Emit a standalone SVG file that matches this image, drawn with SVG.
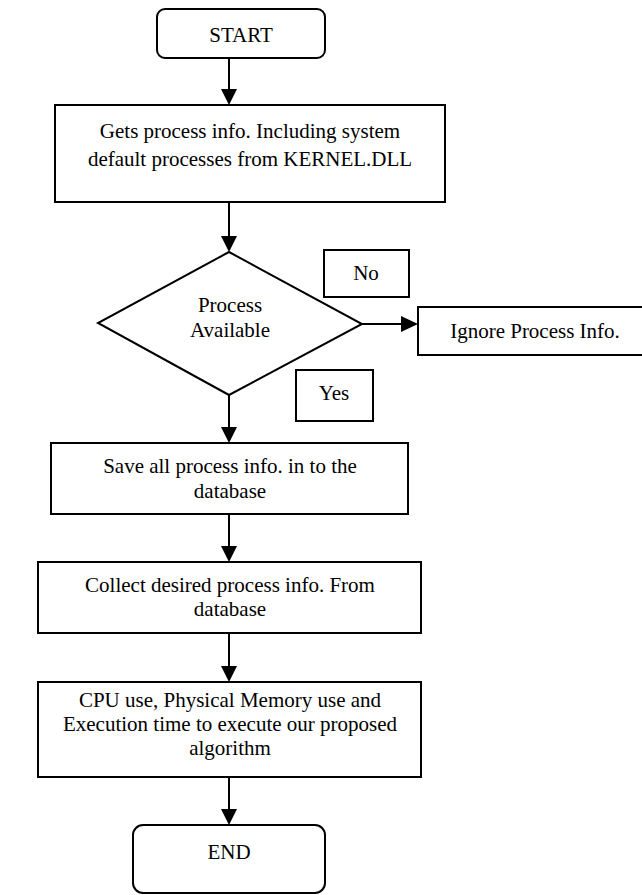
<svg xmlns="http://www.w3.org/2000/svg" width="642" height="895" viewBox="0 0 642 895">
<defs>
<style>
.box{fill:#fff;stroke:#000;stroke-width:2}
.t{font-family:"Liberation Serif","Times New Roman",serif;font-size:21px;fill:#000;text-anchor:middle}
.c{stroke:#000;stroke-width:2;fill:none}
.h{fill:#000;stroke:none}
</style>
</defs>
<rect width="642" height="895" fill="#fff"/>
<g id="connectors">
<line class="c" x1="229" y1="58" x2="229" y2="90"/>
<polygon class="h" points="221,89 237,89 229,105"/>
<line class="c" x1="229" y1="202" x2="229" y2="237"/>
<polygon class="h" points="221,236 237,236 229,252"/>
<line class="c" x1="362" y1="324" x2="402" y2="324"/>
<polygon class="h" points="401,316 401,332 418,324"/>
<line class="c" x1="229" y1="395" x2="229" y2="428"/>
<polygon class="h" points="221,427 237,427 229,443"/>
<line class="c" x1="229" y1="514" x2="229" y2="547"/>
<polygon class="h" points="221,546 237,546 229,562"/>
<line class="c" x1="229" y1="633" x2="229" y2="667"/>
<polygon class="h" points="221,666 237,666 229,682"/>
<line class="c" x1="229" y1="777" x2="229" y2="810"/>
<polygon class="h" points="221,809 237,809 229,825"/>
</g>
<g id="start">
<rect class="box" x="157" y="9" width="168" height="49" rx="8"/>
<text class="t" x="241" y="42">START</text>
</g>
<g id="gets">
<rect class="box" x="55" y="105" width="390" height="97"/>
<text class="t" x="250" y="138">Gets process info. Including system</text>
<text class="t" x="250" y="166">default processes from KERNEL.DLL</text>
</g>
<g id="decision">
<polygon class="box" points="229,252 362,324 229,395 98,323"/>
<text class="t" x="230" y="312">Process</text>
<text class="t" x="230" y="337">Available</text>
</g>
<g id="no">
<rect class="box" x="324" y="250" width="85" height="47"/>
<text class="t" x="366" y="280">No</text>
</g>
<g id="ignore">
<rect class="box" x="418" y="307" width="250" height="48"/>
<text class="t" x="535" y="338">Ignore Process Info.</text>
</g>
<g id="yes">
<rect class="box" x="296" y="370" width="77" height="51"/>
<text class="t" x="334" y="400">Yes</text>
</g>
<g id="save">
<rect class="box" x="51" y="443" width="357" height="71"/>
<text class="t" x="230" y="473">Save all process info. in to the</text>
<text class="t" x="230" y="498">database</text>
</g>
<g id="collect">
<rect class="box" x="38" y="562" width="383" height="71"/>
<text class="t" x="230" y="592">Collect desired process info. From</text>
<text class="t" x="230" y="616">database</text>
</g>
<g id="cpu">
<rect class="box" x="38" y="682" width="383" height="95"/>
<text class="t" x="230" y="707">CPU use, Physical Memory use and</text>
<text class="t" x="230" y="731">Execution time to execute our proposed</text>
<text class="t" x="230" y="755">algorithm</text>
</g>
<g id="end">
<rect class="box" x="133" y="825" width="192" height="68" rx="10"/>
<text class="t" x="229" y="859">END</text>
</g>
</svg>
